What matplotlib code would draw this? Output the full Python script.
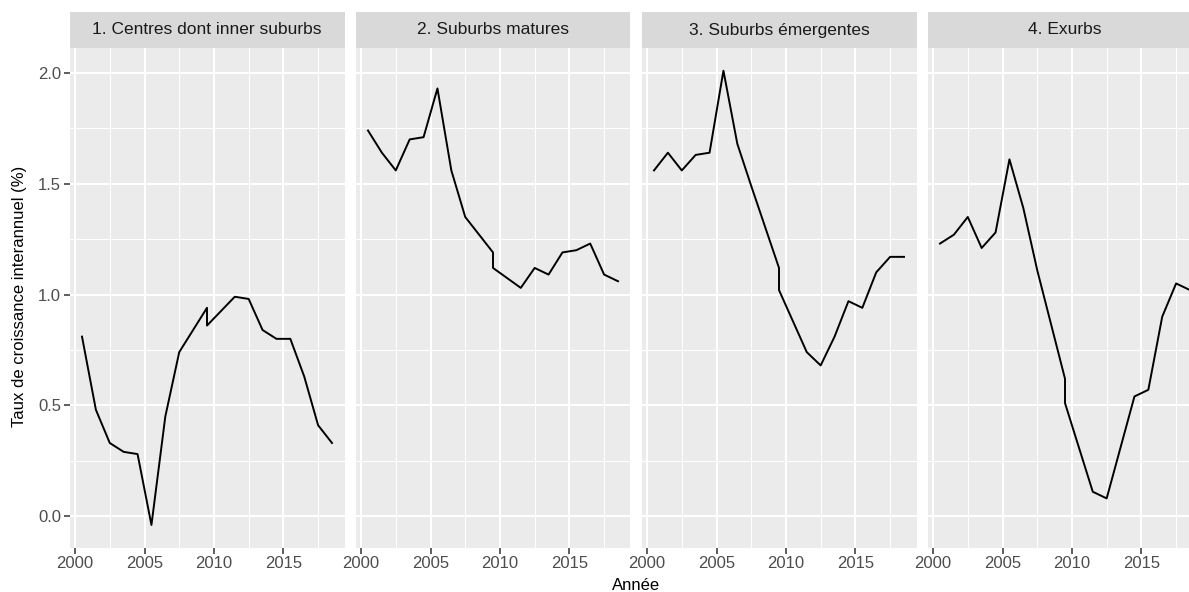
import matplotlib
matplotlib.use('Agg')
import matplotlib.pyplot as plt

plt.rcParams['font.family'] = ['Liberation Sans', 'DejaVu Sans']

# years (two values at 2009.5: change of source)
annees = [2000.5, 2001.5, 2002.5, 2003.5, 2004.5, 2005.5, 2006.5, 2007.5,
          2009.5, 2009.5, 2011.5, 2012.5, 2013.5, 2014.5, 2015.5, 2016.5,
          2017.5, 2018.5]

centres = [0.81, 0.48, 0.33, 0.29, 0.28, -0.04, 0.45, 0.74,
           0.94, 0.86, 0.99, 0.98, 0.84, 0.80, 0.80, 0.63, 0.41, 0.33]
suburbs_matures = [1.74, 1.64, 1.56, 1.70, 1.71, 1.93, 1.56, 1.35,
                   1.19, 1.12, 1.03, 1.12, 1.09, 1.19, 1.20, 1.23, 1.09, 1.06]
suburbs_emergentes = [1.56, 1.64, 1.56, 1.63, 1.64, 2.01, 1.68, 1.49,
                      1.12, 1.02, 0.74, 0.68, 0.81, 0.97, 0.94, 1.10, 1.17, 1.17]
exurbs = [1.23, 1.27, 1.35, 1.21, 1.28, 1.61, 1.39, 1.11,
          0.62, 0.51, 0.11, 0.08, 0.31, 0.54, 0.57, 0.90, 1.05, 1.02]

titres = ['1. Centres dont inner suburbs', '2. Suburbs matures',
          '3. Suburbs émergentes', '4. Exurbs']
series = [centres, suburbs_matures, suburbs_emergentes, exurbs]

xticks = [2000, 2005, 2010, 2015]
yticks = [0.0, 0.5, 1.0, 1.5, 2.0]

W, H = 1189, 592
fig = plt.figure(figsize=(W / 100, H / 100), dpi=100)

# panel geometry in pixels
left0, step, pw = 69.5, 286, 275
ptop, pbot = 48, 547.7
strip_top = 12

for i, (titre, vals) in enumerate(zip(titres, series)):
    l = left0 + i * step
    ax = fig.add_axes([l / W, 1 - pbot / H, pw / W, (pbot - ptop) / H])
    ax.set_facecolor('#EBEBEB')
    ax.set_xlim(1999.6, 2019.4)
    ax.set_ylim(-0.1425, 2.1125)
    ax.set_xticks(xticks)
    ax.set_xticks([2002.5, 2007.5, 2012.5, 2017.5], minor=True)
    ax.set_yticks(yticks)
    ax.set_yticks([0.25, 0.75, 1.25, 1.75], minor=True)
    ax.grid(which='major', color='white', linewidth=1.5)
    ax.grid(which='minor', color='white', linewidth=0.75)
    ax.set_axisbelow(True)
    for s in ax.spines.values():
        s.set_visible(False)
    ax.tick_params(which='minor', length=0)
    ax.tick_params(which='major', length=4, width=1.1, color='#333333',
                   labelcolor='#4D4D4D', labelsize=12, pad=2)
    if i == 0:
        ax.set_yticklabels([f'{v:.1f}' for v in yticks])
    else:
        ax.tick_params(axis='y', length=0, labelleft=False)
    ax.plot(annees, vals, color='black', linewidth=1.4)

    sax = fig.add_axes([l / W, 1 - ptop / H, pw / W, (ptop - strip_top) / H])
    sax.set_facecolor('#D9D9D9')
    sax.set_xticks([])
    sax.set_yticks([])
    for s in sax.spines.values():
        s.set_visible(False)
    sax.text(0.5, 0.5, titre, ha='center', va='center', fontsize=12.5,
             color='#1A1A1A', transform=sax.transAxes)

fig.text(636 / W, 1 - 585 / H, 'Année', ha='center', va='center',
         fontsize=12, color='black')
fig.text(20 / W, 1 - 296 / H, 'Taux de croissance interannuel (%)',
         ha='center', va='center', rotation=90, fontsize=12, color='black')

fig.savefig('out.png', dpi=100, facecolor='white')
